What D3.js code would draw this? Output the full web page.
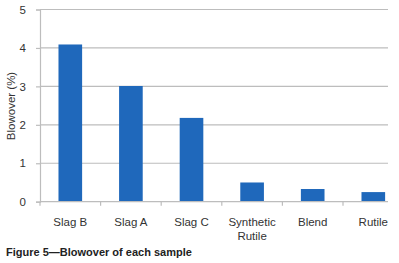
<!DOCTYPE html>
<html>
<head>
<meta charset="utf-8">
<script src="https://cdn.jsdelivr.net/npm/d3@7"></script>
<style>
  body { margin: 0; background: #fff; }
  text { font-family: "Liberation Sans", Arial, sans-serif; }
</style>
</head>
<body>
<div id="chart-area"></div>
<script>
// Data
var categories = ["Slag B", "Slag A", "Slag C", "Synthetic Rutile", "Blend", "Rutile"];
var values = [4.09, 3.01, 2.18, 0.50, 0.33, 0.25];
var yTicks = [0, 1, 2, 3, 4, 5];

var width = 399, height = 263;

var svg = d3.select("#chart-area").append("svg")
    .attr("width", width)
    .attr("height", height);

var plotLeft = 40, plotRight = 388, plotTop = 9.5, plotBottom = 201.7;

// Scales (the band extends past the cropped right edge)
var x = d3.scaleBand()
    .domain(categories)
    .range([plotLeft, plotLeft + 60.6 * categories.length])
    .paddingInner(0.61)
    .paddingOuter(0.305);

var y = d3.scaleLinear().domain([0, 5]).range([plotBottom, plotTop]);

// Gridlines
svg.append("g").selectAll("line")
    .data(yTicks.filter((d) => d > 0))
    .enter().append("line")
    .attr("x1", plotLeft).attr("x2", plotRight)
    .attr("y1", (d) => y(d)).attr("y2", (d) => y(d))
    .attr("stroke", "#bdbdbd")
    .attr("stroke-width", 1.2);

// Y axis
var yAxis = svg.append("g")
    .attr("transform", "translate(" + plotLeft + ",0)")
    .call(d3.axisLeft(y).tickValues(yTicks).tickSize(4).tickPadding(10).tickFormat(d3.format("d")));
yAxis.select(".domain").attr("stroke", "#bdbdbd").attr("stroke-width", 1.2);
yAxis.selectAll(".tick line").attr("stroke", "#bdbdbd").attr("stroke-width", 1.2);
yAxis.selectAll(".tick text").attr("fill", "#333").style("font-size", "11.5px")
    .style("font-family", "\"Liberation Sans\", Arial, sans-serif");

// Bars
svg.append("g").selectAll("rect")
    .data(values)
    .enter().append("rect")
    .attr("x", (d, i) => x(categories[i]))
    .attr("width", x.bandwidth())
    .attr("y", (d) => y(d))
    .attr("height", (d) => y(0) - y(d))
    .attr("fill", "#1f68bb");

// X axis baseline and ticks
svg.append("line")
    .attr("x1", plotLeft).attr("x2", plotRight)
    .attr("y1", plotBottom).attr("y2", plotBottom)
    .attr("stroke", "#bdbdbd").attr("stroke-width", 1.2);

svg.append("g").selectAll("line")
    .data(categories)
    .enter().append("line")
    .attr("x1", (d) => x(d) - x.step() * x.paddingInner() / 2)
    .attr("x2", (d) => x(d) - x.step() * x.paddingInner() / 2)
    .attr("y1", plotBottom).attr("y2", plotBottom + 4)
    .attr("stroke", "#bdbdbd").attr("stroke-width", 1.2);

// X labels (wrap on space for two-word labels)
var xl = svg.append("g").selectAll("text")
    .data(categories)
    .enter().append("text")
    .attr("x", (d) => x(d) + x.bandwidth() / 2)
    .attr("y", 225.5)
    .attr("text-anchor", "middle")
    .attr("fill", "#333")
    .style("font-size", "11.5px");

xl.each(function(d) {
    var words = d.indexOf("Slag") === 0 ? [d] : d.split(" ");
    var t = d3.select(this);
    words.forEach((w, i) => {
        t.append("tspan")
            .attr("x", x(d) + x.bandwidth() / 2)
            .attr("dy", i === 0 ? 0 : 14.5)
            .text(w);
    });
});

// Y-axis label
svg.append("text")
    .attr("transform", "rotate(-90)")
    .attr("x", -106)
    .attr("y", 15)
    .attr("text-anchor", "middle")
    .attr("fill", "#333")
    .style("font-size", "11.5px")
    .text("Blowover (%)");

// Caption
svg.append("text")
    .attr("x", 6)
    .attr("y", 255.5)
    .attr("fill", "#222")
    .style("font-size", "11px")
    .style("font-weight", "bold")
    .text("Figure 5\u2014Blowover of each sample");
</script>
</body>
</html>
